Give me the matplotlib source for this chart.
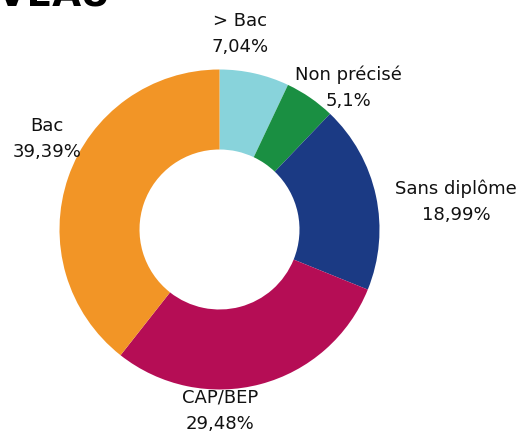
import matplotlib
matplotlib.use("Agg")
import matplotlib.pyplot as plt

# Data
categories = ["> Bac", "Non précisé", "Sans diplôme", "CAP/BEP", "Bac"]
values = [7.04, 5.1, 18.99, 29.48, 39.39]
colors = ["#88D3DB", "#1A8F42", "#1B3A84", "#B50D55", "#F29526"]

# Layout (pixel coordinates, origin top-left)
W, H = 528, 435
center_px = (219.5, 230.5)
radius = 160
ring_width = 80
label_px = [(240, 34), (348, 88), (456, 202), (220, 411), (47, 139)]

fig = plt.figure(figsize=(W / 100, H / 100), dpi=100)
ax = fig.add_axes([0, 0, 1, 1])

ax.pie(values, colors=colors, startangle=90, counterclock=False,
       center=(center_px[0], H - center_px[1]), radius=radius,
       wedgeprops=dict(width=ring_width, linewidth=0))

for cat, val, (x, y) in zip(categories, values, label_px):
    txt = cat + "\n" + ("%g" % val).replace(".", ",") + "%"
    ax.text(x, H - y, txt, ha="center", va="center", fontsize=13,
            linespacing=1.6, color="#111111", family="DejaVu Sans")

# cropped title at the top edge
ax.text(111, H - 5, "NIVEAU", ha="right", va="baseline", fontsize=27,
        fontweight="bold", color="black", family="DejaVu Sans")

ax.set_xlim(0, W)
ax.set_ylim(0, H)
ax.set_aspect("equal")
ax.axis("off")

fig.savefig("out.png", dpi=100)
